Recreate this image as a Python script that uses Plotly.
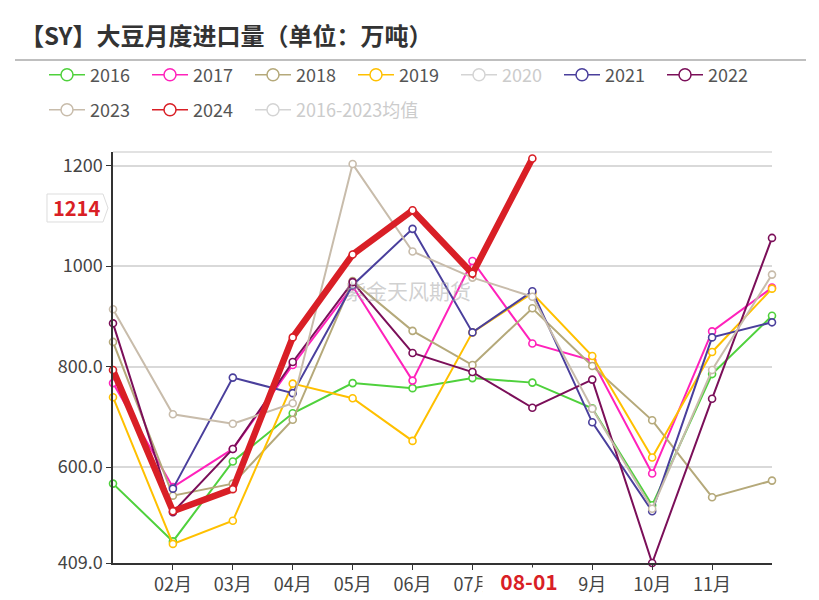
import plotly.graph_objects as go

# ---------------- data ----------------
months = ["01月", "02月", "03月", "04月", "05月", "06月", "07月", "08月", "9月", "10月", "11月", "12月"]
tick_months = ["02月", "03月", "04月", "05月", "06月", "07月", "08月", "9月", "10月", "11月"]

y2016 = [567, 452, 611, 707, 767, 757, 777, 768, 717, 524, 785, 901]
y2017 = [767, 560, 636, 803, 960, 772, 1010, 846, 812, 587, 870, 957]
y2018 = [849, 543, 567, 694, 970, 871, 803, 916, 801, 693, 540, 573]
y2019 = [739, 447, 493, 766, 737, 652, 868, 946, 821, 619, 829, 955]
y2020 = [None] * 12          # hidden in the reference (legend disabled)
y2021 = [None, 557, 778, 747, 962, 1074, 868, 950, 689, 512, 858, 888]
y2022 = [886, 510, 636, 809, 968, 827, 789, 718, 774, 409, 736, 1056]
y2023 = [914, 705, 686, 727, 1203, 1029, 977, 939, 716, 517, 793, 983]
y2024 = [793, 512, 556, 858, 1023, 1111, 985, 1214, None, None, None, None]
y_avg = [None] * 12          # hidden in the reference (legend disabled)

y_ticks = [409, 600, 800, 1000, 1200]
y_ticktext = ["409.0", "600.0", "800.0", "1000", "1200"]
pointer_month = "08月"
pointer_label = "08-01"

series = [
    ("2016", y2016, "#4fd13c", 2, True, "legend"),
    ("2017", y2017, "#ff22bb", 2, True, "legend"),
    ("2018", y2018, "#b5a97a", 2, True, "legend"),
    ("2019", y2019, "#ffc000", 2, True, "legend"),
    ("2020", y2020, "#d4d4d4", 2, False, "legend"),
    ("2021", y2021, "#4a3f9c", 2, True, "legend"),
    ("2022", y2022, "#7b0f59", 2, True, "legend"),
    ("2023", y2023, "#c8bcab", 2, True, "legend2"),
    ("2024", y2024, "#d91f26", 6.5, True, "legend2"),
    ("2016-2023均值", y_avg, "#d4d4d4", 2, False, "legend2"),
]

# ---------------- geometry helpers (pixels -> paper / container) ----------------
W, H = 819, 600
L, R, T, B = 113, 772, 152, 563
def px(x):
    return (x - L) / (R - L)
def py(y):
    return (B - y) / (B - T)
def cx(x):
    return x / W
def cy(y):
    return 1 - y / H

fig = go.Figure()

for name, vals, color, lw, enabled, leg in series:
    # drawn series
    fig.add_trace(go.Scatter(
        x=months, y=vals, mode="lines+markers", name=name, legendgroup=name,
        showlegend=False, connectgaps=False, cliponaxis=False,
        line=dict(color=color, width=lw),
        marker=dict(symbol="circle", size=7, color="white",
                    line=dict(color=color, width=1.6)),
        hoverinfo="x+y+name",
    ))
    # legend entry (thin symbol like the reference)
    label = name if enabled else '<span style="color:#cccccc">%s</span>' % name
    fig.add_trace(go.Scatter(
        x=months, y=[None] * len(months), mode="lines+markers", name=label,
        legendgroup=name, showlegend=True, legend=leg,
        legendwidth=(160 if len(name) > 4 else None),
        line=dict(color=color, width=1.5),
        marker=dict(symbol="circle", size=12, color="white",
                    line=dict(color=color, width=1.5)),
        hoverinfo="skip",
    ))

font_family = "Noto Sans CJK SC, Noto Sans, sans-serif"

legend_common = dict(
    orientation="h", xanchor="left", yanchor="middle",
    font=dict(family=font_family, size=18, color="#555555"),
    itemwidth=36, entrywidth=52, entrywidthmode="pixels",
    bgcolor="rgba(0,0,0,0)", itemclick=False, itemdoubleclick=False,
    tracegroupgap=0,
)

# the axis-pointer label replaces the tick label of the pointed month
tick_text = ["" if m == pointer_month else m for m in tick_months]

fig.update_layout(
    width=W, height=H,
    paper_bgcolor="white", plot_bgcolor="white",
    margin=dict(l=L, r=W - R, t=T, b=H - B, autoexpand=False),
    font=dict(family=font_family, color="#333333"),
    title=dict(
        text="<b>【SY】大豆月度进口量（单位：万吨）</b>",
        xref="container", yref="container", x=cx(20), y=cy(37),
        xanchor="left", yanchor="middle",
        font=dict(family=font_family, size=24, color="#333333"),
    ),
    legend=dict(x=px(44), y=py(75), **legend_common),
    legend2=dict(x=px(44), y=py(110), **legend_common),
    xaxis=dict(
        type="category", categoryorder="array", categoryarray=months,
        range=[0, len(months) - 1], automargin=False,
        tickmode="array", tickvals=tick_months, ticktext=tick_text,
        showgrid=False, zeroline=False,
        showline=True, linecolor="#333333", linewidth=1.5,
        ticks="outside", ticklen=5, tickcolor="#333333", tickwidth=1.2,
        tickfont=dict(family=font_family, size=18, color="#444444"),
    ),
    yaxis=dict(
        range=[409, 1227], automargin=False,
        tickmode="array", tickvals=y_ticks, ticktext=y_ticktext,
        showgrid=True, gridcolor="#d9d9d9", gridwidth=1.5, zeroline=False,
        showline=True, linecolor="#333333", linewidth=1.5,
        ticks="outside", ticklen=5, tickcolor="#333333", tickwidth=1.2,
        tickfont=dict(family=font_family, size=18, color="#444444"),
    ),
    hovermode="closest",
    showlegend=True,
)

# top border grid line and title underline
fig.add_shape(type="line", xref="paper", yref="paper", x0=0, x1=1, y0=1, y1=1,
              line=dict(color="#d9d9d9", width=1.5), layer="below")
fig.add_shape(type="line", xref="paper", yref="paper", x0=px(15), x1=px(806),
              y0=py(60), y1=py(60), line=dict(color="#aaaaaa", width=1.5))

# watermark
fig.add_annotation(text="紫金天风期货", xref="paper", yref="paper",
                   x=px(408), y=py(290), xanchor="center", yanchor="middle",
                   showarrow=False,
                   font=dict(family=font_family, size=21, color="rgba(170,170,170,0.55)"))

# y axis-pointer badge (value of 2024 at pointer month)
bx0, bx1, btip, by0, by1 = 47, 103, 108, 194, 222
path = "M %f %f L %f %f L %f %f L %f %f L %f %f Z" % (
    px(bx0), py(by0), px(bx1), py(by0), px(btip), py((by0 + by1) / 2),
    px(bx1), py(by1), px(bx0), py(by1))
fig.add_shape(type="path", xref="paper", yref="paper", path=path,
              fillcolor="white", line=dict(color="#dddddd", width=1))
pointer_value = y2024[months.index(pointer_month)]
fig.add_annotation(text="<b>%d</b>" % pointer_value, xref="paper", yref="paper",
                   x=px(76), y=py(208), xanchor="center", yanchor="middle",
                   showarrow=False,
                   font=dict(family=font_family, size=20, color="#d91f26"))

# x axis-pointer label (white box partly hides the neighbouring tick label)
fig.add_annotation(text="<b>%s</b>" % pointer_label, xref="x", yref="paper",
                   x=pointer_month, y=py(581), xanchor="center", yanchor="middle",
                   xshift=-3, showarrow=False,
                   width=92, height=26, bgcolor="white", borderpad=0,
                   font=dict(family=font_family, size=21, color="#d91f26"))

fig.write_html("out.html", config={"displayModeBar": False},
               post_script="document.body.style.margin='0';")
